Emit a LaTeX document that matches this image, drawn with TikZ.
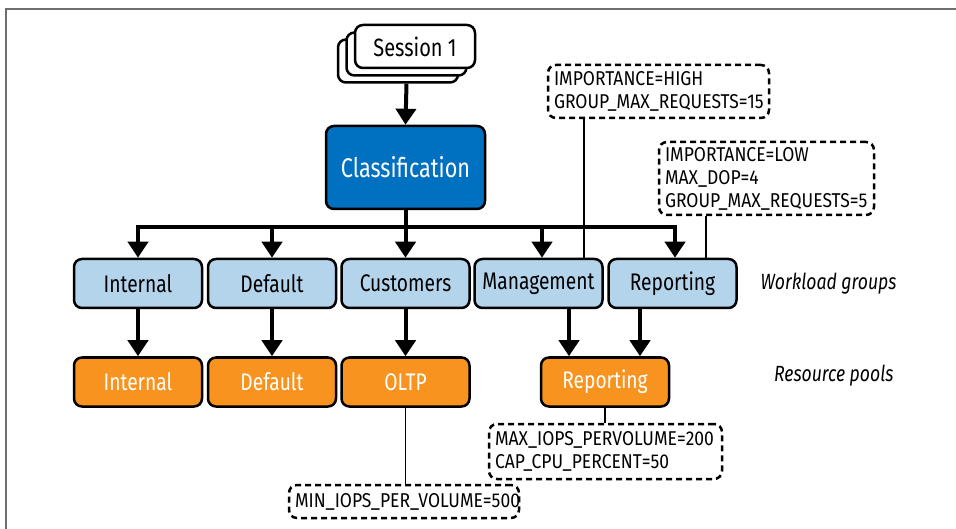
\documentclass[tikz,border=0pt]{standalone}
\usepackage{fontspec}
\setmainfont{Fira Sans}[FakeStretch=0.8]
\newfontfamily\notefont{Fira Sans}[FakeStretch=0.875]
\usetikzlibrary{arrows.meta}
\definecolor{clsblue}{RGB}{0,112,192}
\definecolor{lblue}{RGB}{179,212,235}
\definecolor{porange}{RGB}{247,147,30}
\definecolor{framegray}{RGB}{110,110,110}
\tikzset{
  box/.style={draw=black, line width=2.5pt, rounded corners=8pt, inner sep=0pt,
    minimum width=128pt, minimum height=49pt, font=\fontsize{24}{28}\selectfont},
  wg/.style={box, fill=lblue, text=black},
  rp/.style={box, fill=porange, text=white},
  sess/.style={box, fill=white, minimum width=120pt, minimum height=43pt, font=\fontsize{25}{30}\selectfont},
  cls/.style={box, fill=clsblue, text=white, minimum width=159pt, minimum height=83pt, font=\fontsize{27}{32}\selectfont},
  note/.style={draw=black, line width=2.5pt, dash pattern=on 6pt off 4pt, rounded corners=8pt,
    inner xsep=6pt, inner ysep=0pt, align=left, font=\notefont\fontsize{20}{23}\selectfont},
  arr/.style={line width=4pt, -{Triangle[width=20pt,length=16pt]}},
  bar/.style={line width=4pt},
  thin/.style={line width=1.6pt},
  side/.style={font=\itshape\fontsize{22}{26}\selectfont, anchor=east},
  frame/.style={line width=2pt, draw=framegray}
}
\begin{document}
\begin{tikzpicture}[x=1pt,y=-1pt]
\useasboundingbox (0,0) rectangle (956,529);
% frame
\coordinate (fa) at (6,529);
\coordinate (fb) at (6,9);
\coordinate (fc) at (956,9);
\draw[frame] (fa) -- (fb) -- (fc);

% session stack
\node[sess] (s3) at (398,61) {};
\node[sess] (s2) at (406.5,54) {};
\node[sess] (s1) at (415,46.5) {Session 1};

% classification
\node[cls] (cls) at (405.5,167.5) {Classification};

% workload groups
\node[wg] (wi) at (138,283.5) {Internal};
\node[wg] (wd) at (272,283.5) {Default};
\node[wg] (wc) at (405.5,283.5) {Customers};
\node[wg] (wm) at (538.5,283.5) {Management};
\node[wg] (wr) at (672.5,283.5) {Reporting};

% resource pools
\node[rp] (pi) at (138,382) {Internal};
\node[rp] (pd) at (272,382) {Default};
\node[rp] (po) at (405.5,382) {OLTP};
\node[rp] (pr) at (605,382) {Reporting};

% side labels
\node[side] (lwg) at (900,284) {Workload groups};
\node[side] (lrp) at (897,376) {Resource pools};

% notes
\node[note, text width=209pt, minimum height=53pt] (nh) at (658.5,91.5)
  {IMPORTANCE=HIGH\\GROUP\_MAX\_REQUESTS=15};
\node[note, text width=203pt, minimum height=73pt] (nl) at (766.5,178.5)
  {IMPORTANCE=LOW\\MAX\_DOP=4\\GROUP\_MAX\_REQUESTS=5};
\node[note, text width=221pt, minimum height=55pt] (nm) at (605.5,451.5)
  {MAX\_IOPS\_PERVOLUME=200\\CAP\_CPU\_PERCENT=50};
\node[note, text width=218pt, minimum height=33pt] (nn) at (404,501.5)
  {MIN\_IOPS\_PER\_VOLUME=500};

% note connectors
\draw[thin] (nh.south -| 584,0) -- (wm.north -| 584,0);
\draw[thin] (nl.south -| 706,0) -- (wr.north -| 706,0);
\draw[thin] (po.south) -- (nn.north -| po.south);
\draw[thin] (pr.south) -- (nm.north -| pr.south);

% session -> classification
\draw[arr] (s2.south |- s3.south) -- (cls.north);

% bar
\coordinate (b1) at (138,227);
\coordinate (b2) at (272,227);
\coordinate (b3) at (405.5,227);
\coordinate (b4) at (542,227);
\coordinate (b5) at (675,227);
\draw[bar, line cap=rect] (b1) -- (b5);
\draw[bar] (cls.south) -- (b3);
\draw[arr] (b1) -- (wi.north);
\draw[arr] (b2) -- (wd.north);
\draw[arr] (b3) -- (wc.north);
\draw[arr] (b4) -- (b4 |- wm.north);
\draw[arr] (b5) -- (b5 |- wr.north);

% groups -> pools
\draw[arr] (wi) -- (pi);
\draw[arr] (wd) -- (pd);
\draw[arr] (wc) -- (po);
\draw[arr] (wm.south -| 569,0) -- (pr.north -| 569,0);
\draw[arr] (wr.south -| 640,0) -- (pr.north -| 640,0);
\end{tikzpicture}
\end{document}
